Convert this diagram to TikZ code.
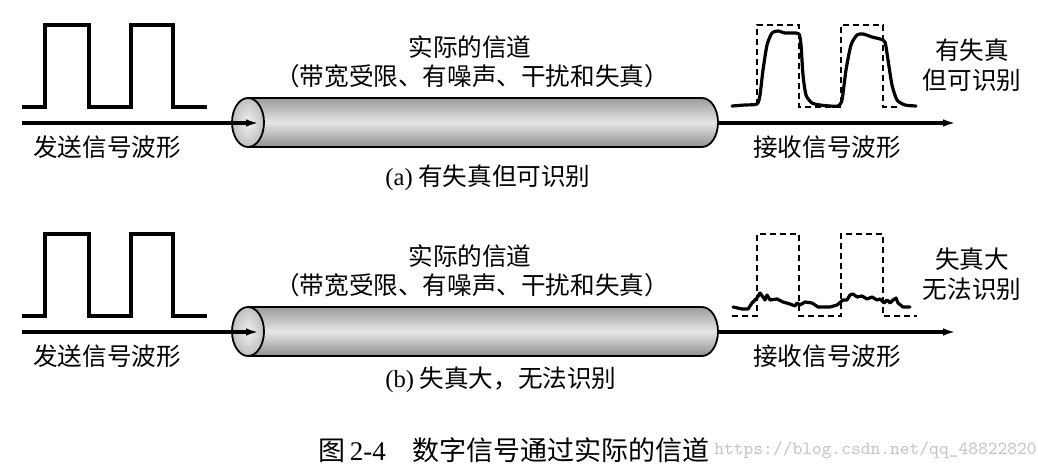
\documentclass[tikz,border=0pt]{standalone}
\usepackage{fontspec}
\setmainfont{Liberation Serif}
\newfontfamily\cjk{Noto Sans CJK SC}
\usetikzlibrary{arrows.meta}
\tikzset{
  pulse/.style={line width=1.8pt},
  ideal/.style={line width=0.6pt, dash pattern=on 3pt off 2pt},
  rx/.style={line width=1.6pt, line join=round, line cap=round},
  sig/.style={line width=1.7pt, -{Latex[length=6.5pt,width=3.8pt]}},
  lbl/.style={font=\cjk\fontsize{12.3}{14}\selectfont, inner sep=1pt},
  tube/.style={top color=gray!78, bottom color=gray!88, middle color=gray!20},
}

\begin{document}
\begin{tikzpicture}[x=0.5pt, y=0.5pt]
  \useasboundingbox (0,0) rectangle (1038,471);
  \def\ry{24.5}
  \def\rr{16}
  % ---------- (a) ----------
  \begin{scope}
    \coordinate (a-in) at (22,348);
    \coordinate (a-face) at (259,348);
    \coordinate (a-end) at (718,348);
    \coordinate (a-out) at (956,348);
    % 发送波形
    \draw[pulse] (22,364) -- (45,364) -- (45,446) -- (89,446) -- (89,364) -- (131,364)
      -- (131,446) -- (173,446) -- (173,364) -- (207,364);
    % 信道
    \shade[tube] (248,373) -- (702,373) arc[start angle=90, end angle=-90, x radius=\rr, y radius=\ry] -- (248,324) -- cycle;
    \draw[line width=0.9pt] (248,373) -- (702,373) arc[start angle=90, end angle=-90, x radius=\rr, y radius=\ry] -- (248,324);
    \shade[inner color=gray!12, outer color=gray!50] (248,348.5) ellipse[x radius=\rr, y radius=\ry];
    \draw[line width=0.9pt] (248,348.5) ellipse[x radius=\rr, y radius=\ry];
    \draw[sig] (a-in) -- (a-face);
    \draw[sig] (a-end) -- (a-out);
    % 接收波形
    \draw[ideal] (757,366) -- (757,446) -- (799,446) -- (799,364) -- (841,364) -- (841,446)
      -- (883,446) -- (883,364) -- (900,364);
    \draw[rx] plot[smooth, tension=0.4] coordinates {(732,365) (745,366) (757,367) (760,376)
      (763,401) (767,426) (772,438) (778,440) (785,438) (793,438) (799,437) (801,426)
      (803,396) (806,376) (812,368) (820,366) (830,365) (838,365) (842,371) (846,401)
      (851,426) (857,436) (863,437) (872,434) (880,432) (885,429) (888,411) (892,386)
      (897,371) (905,366) (916,365)};
    % 文字
    \node[lbl] (a-send) at (107,324) {发送信号波形};
    \node[lbl] (a-ch1) at (470,424) {实际的信道};
    \node[lbl] (a-ch2) at (472,395) {（带宽受限、有噪声、干扰和失真）};
    \node[lbl, anchor=west] (a-cap) at (383,293) {{\rmfamily (a)} 有失真但可识别};
    \node[lbl] (a-recv) at (827,324) {接收信号波形};
    \node[lbl] (a-q1) at (972,421) {有失真};
    \node[lbl] (a-q2) at (972,391) {但可识别};
  \end{scope}
  % ---------- (b) ----------
  \begin{scope}[shift={(0,-209)}]
    \coordinate (b-in) at (22,348);
    \coordinate (b-face) at (259,348);
    \coordinate (b-end) at (718,348);
    \coordinate (b-out) at (956,348);
    \draw[pulse] (22,364) -- (45,364) -- (45,446) -- (89,446) -- (89,364) -- (131,364)
      -- (131,446) -- (173,446) -- (173,364) -- (207,364);
    \shade[tube] (248,373) -- (702,373) arc[start angle=90, end angle=-90, x radius=\rr, y radius=\ry] -- (248,324) -- cycle;
    \draw[line width=0.9pt] (248,373) -- (702,373) arc[start angle=90, end angle=-90, x radius=\rr, y radius=\ry] -- (248,324);
    \shade[inner color=gray!12, outer color=gray!50] (248,348.5) ellipse[x radius=\rr, y radius=\ry];
    \draw[line width=0.9pt] (248,348.5) ellipse[x radius=\rr, y radius=\ry];
    \draw[sig] (b-in) -- (b-face);
    \draw[sig] (b-end) -- (b-out);
    \draw[ideal] (732,364) -- (757,364) -- (757,446) -- (799,446) -- (799,364) -- (841,364)
      -- (841,446) -- (883,446) -- (883,364) -- (917,364);
    \draw[rx] (733,373) -- (742,371) -- (748,371) -- (752,377) -- (757,382) -- (760,387)
      -- (763,383) -- (765,380) -- (767,385) -- (770,380) -- (777,381) -- (783,378)
      -- (790,376) -- (795,374) -- (797,377) -- (800,375) -- (805,378) -- (812,377)
      -- (818,373) -- (830,373) -- (837,375) -- (843,380) -- (847,380) -- (850,385)
      -- (853,386) -- (857,383) -- (862,384) -- (867,381) -- (872,383) -- (877,380)
      -- (880,381) -- (884,377) -- (887,380) -- (890,377) -- (893,380) -- (896,382)
      -- (898,377) -- (903,373) -- (910,373);
    \node[lbl] (b-send) at (107,324) {发送信号波形};
    \node[lbl] (b-ch1) at (470,424) {实际的信道};
    \node[lbl] (b-ch2) at (472,395) {（带宽受限、有噪声、干扰和失真）};
    \node[lbl, anchor=west] (b-cap) at (383,300) {{\rmfamily (b)} 失真大，无法识别};
    \node[lbl] (b-recv) at (827,324) {接收信号波形};
    \node[lbl] (b-q1) at (972,421) {失真大};
    \node[lbl] (b-q2) at (972,391) {无法识别};
  \end{scope}
  % 图题
  \node[anchor=west, inner sep=0pt, font=\cjk\fontsize{13.5}{15}\selectfont] (fig) at (318,21)
    {图\,{\rmfamily 2-4}\quad 数字信号通过实际的信道};
  \node[anchor=west, inner sep=0pt, text=gray!45, font=\ttfamily\fontsize{9.3}{10}\selectfont] (wm) at (714,21)
    {https://blog.csdn.net/qq\_48822820};
\end{tikzpicture}
\end{document}
